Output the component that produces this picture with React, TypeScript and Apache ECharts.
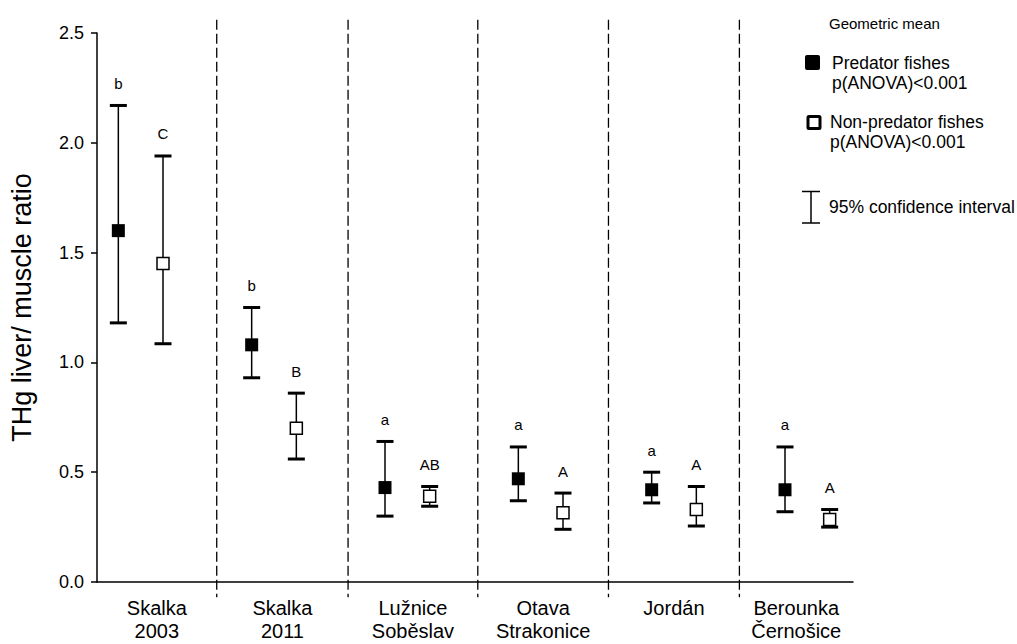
import React, { useEffect, useRef } from "react";
import * as echarts from "echarts";

const categories = [
  "Skalka\n2003",
  "Skalka\n2011",
  "Lužnice\nSoběslav",
  "Otava\nStrakonice",
  "Jordán",
  "Berounka\nČernošice",
];
const predMean = [1.6, 1.08, 0.43, 0.47, 0.42, 0.42];
const predLow = [1.18, 0.93, 0.3, 0.37, 0.36, 0.32];
const predHigh = [2.17, 1.25, 0.64, 0.615, 0.5, 0.615];
const predLetters = ["b", "b", "a", "a", "a", "a"];
const nonMean = [1.45, 0.7, 0.39, 0.315, 0.33, 0.285];
const nonLow = [1.085, 0.56, 0.345, 0.24, 0.255, 0.25];
const nonHigh = [1.94, 0.86, 0.435, 0.405, 0.435, 0.33];
const nonLetters = ["C", "B", "AB", "A", "A", "A"];
const dividers = [0.898, 1.883, 2.856, 3.836, 4.818];
const X_MAX = 5.67;
const PRED_OFF = 0.16;
const NON_OFF = 0.495;

const FONT = "'Liberation Sans', Arial, Helvetica, sans-serif";

function errorBarSeries(name: string, off: number, lows: number[], highs: number[], letters: string[]) {
  return {
    type: "custom",
    name,
    clip: false,
    z: 2,
    data: lows.map((lo, i) => [i + off, lo, highs[i]]),
    encode: { x: 0, y: [1, 2] },
    renderItem: (params: any, api: any) => {
      const x = api.value(0);
      const pHi = api.coord([x, api.value(2)]);
      const pLo = api.coord([x, api.value(1)]);
      const half = 8.5;
      return {
        type: "group",
        children: [
          { type: "line", shape: { x1: pHi[0], y1: pHi[1], x2: pLo[0], y2: pLo[1] }, style: { stroke: "#000", lineWidth: 1.5 } },
          { type: "line", shape: { x1: pHi[0] - half, y1: pHi[1], x2: pHi[0] + half, y2: pHi[1] }, style: { stroke: "#000", lineWidth: 3 } },
          { type: "line", shape: { x1: pLo[0] - half, y1: pLo[1], x2: pLo[0] + half, y2: pLo[1] }, style: { stroke: "#000", lineWidth: 3 } },
          {
            type: "text",
            x: pHi[0],
            y: pHi[1] - 22,
            style: { text: letters[params.dataIndex], fontSize: 15, fill: "#000", align: "center", verticalAlign: "middle", fontFamily: FONT },
          },
        ],
      };
    },
  };
}

export default function App() {
  const ref = useRef<HTMLDivElement>(null);
  useEffect(() => {
    if (!ref.current) return;
    const chart = echarts.init(ref.current, null, { renderer: "svg" });
    const bounds = [0, ...dividers, X_MAX];
    const mids = categories.map((_, i) => (bounds[i] + bounds[i + 1]) / 2);
    const legendText = (text: string, x: number, y: number, size = 17.5) => ({
      type: "text",
      x,
      y,
      style: { text, fontSize: size, fill: "#000", verticalAlign: "middle", fontFamily: FONT },
    });
    chart.setOption({
      animation: false,
      backgroundColor: "#fff",
      textStyle: { fontFamily: FONT },
      grid: { left: 97, right: 164, top: 33, bottom: 62 },
      xAxis: {
        type: "value",
        min: 0,
        max: X_MAX,
        axisLine: { show: true, onZero: false, lineStyle: { color: "#000", width: 1.5 } },
        axisTick: { show: false },
        axisLabel: { show: false },
        splitLine: { show: false },
      },
      yAxis: {
        type: "value",
        min: 0,
        max: 2.5,
        interval: 0.5,
        name: "THg liver/ muscle ratio",
        nameLocation: "middle",
        nameRotate: 90,
        nameGap: 62,
        nameTextStyle: { fontSize: 27, color: "#000", fontFamily: FONT },
        axisLine: { show: true, lineStyle: { color: "#000", width: 1.5 } },
        axisTick: { show: true, length: 6, lineStyle: { color: "#000", width: 1.5 } },
        axisLabel: { fontSize: 18, color: "#000", margin: 13, formatter: (v: number) => v.toFixed(1), fontFamily: FONT },
        splitLine: { show: false },
      },
      series: [
        {
          type: "custom",
          name: "dividers",
          clip: false,
          z: 1,
          data: dividers.map((d) => [d]),
          encode: { x: 0 },
          renderItem: (params: any, api: any) => {
            const x = api.value(0);
            const top = api.coord([x, 2.56]);
            const bot = api.coord([x, -0.07]);
            return {
              type: "line",
              shape: { x1: top[0], y1: top[1], x2: bot[0], y2: bot[1] },
              style: { stroke: "#000", lineWidth: 1.3, lineDash: [10, 4] },
            };
          },
        },
        {
          type: "custom",
          name: "categories",
          clip: false,
          z: 1,
          data: mids.map((m) => [m]),
          encode: { x: 0 },
          renderItem: (params: any, api: any) => {
            const p = api.coord([api.value(0), 0]);
            return {
              type: "text",
              x: p[0],
              y: p[1] + 14,
              style: {
                text: categories[params.dataIndex],
                fontSize: 20,
                lineHeight: 23,
                fill: "#000",
                align: "center",
                verticalAlign: "top",
                fontFamily: FONT,
              },
            };
          },
        },
        errorBarSeries("predCI", PRED_OFF, predLow, predHigh, predLetters),
        errorBarSeries("nonCI", NON_OFF, nonLow, nonHigh, nonLetters),
        {
          type: "scatter",
          name: "Predator fishes",
          z: 5,
          symbol: "rect",
          symbolSize: 13,
          itemStyle: { color: "#000", opacity: 1 },
          data: predMean.map((v, i) => [i + PRED_OFF, v]),
        },
        {
          type: "scatter",
          name: "Non-predator fishes",
          z: 5,
          symbol: "rect",
          symbolSize: 12,
          itemStyle: { color: "#fff", borderColor: "#000", borderWidth: 1.5, opacity: 1 },
          data: nonMean.map((v, i) => [i + NON_OFF, v]),
        },
      ],
      graphic: [
        legendText("Geometric mean", 829, 23, 15),
        { type: "rect", shape: { x: 805, y: 55, width: 15, height: 15, r: 2 }, style: { fill: "#000" } },
        legendText("Predator fishes", 832, 63),
        legendText("p(ANOVA)<0.001", 832, 83),
        { type: "rect", shape: { x: 808, y: 116.5, width: 12, height: 12, r: 1 }, style: { fill: "#fff", stroke: "#000", lineWidth: 3 } },
        legendText("Non-predator fishes", 830, 122),
        legendText("p(ANOVA)<0.001", 830, 142),
        { type: "line", shape: { x1: 811, y1: 191.5, x2: 811, y2: 223 }, style: { stroke: "#000", lineWidth: 1.5 } },
        { type: "line", shape: { x1: 802, y1: 191.5, x2: 820, y2: 191.5 }, style: { stroke: "#000", lineWidth: 1.5 } },
        { type: "line", shape: { x1: 802, y1: 223, x2: 820, y2: 223 }, style: { stroke: "#000", lineWidth: 1.5 } },
        legendText("95% confidence interval", 829, 207),
      ],
    });
    return () => chart.dispose();
  }, []);
  return (
    <div
      ref={ref}
      style={{ position: "fixed", left: 0, top: 0, width: 1017, height: 644, background: "#fff" }}
    />
  );
}
